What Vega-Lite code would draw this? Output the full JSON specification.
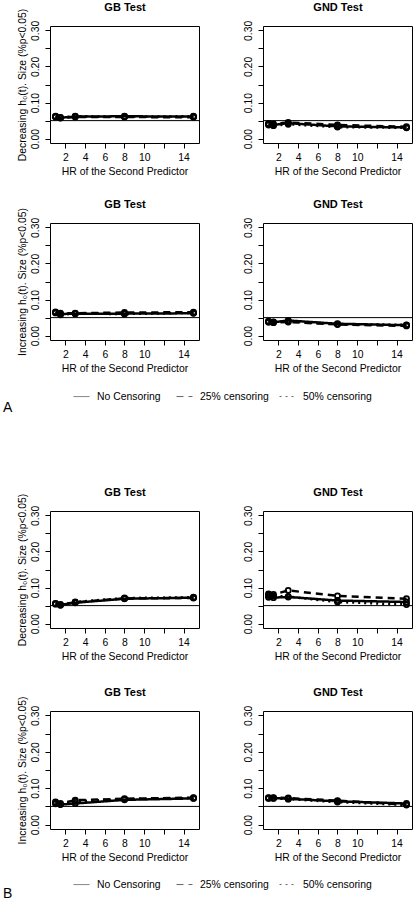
{
"$schema":"https://vega.github.io/schema/vega-lite/v6.json",
"padding":{"left":3,"top":0,"right":0,"bottom":0},
"datasets":{"sim":[
{"s":"A","h":"D","t":"GB","c":"No Censoring","x":1,"y":0.061},{"s":"A","h":"D","t":"GB","c":"No Censoring","x":1.5,"y":0.058},{"s":"A","h":"D","t":"GB","c":"No Censoring","x":3,"y":0.061},{"s":"A","h":"D","t":"GB","c":"No Censoring","x":8,"y":0.062},{"s":"A","h":"D","t":"GB","c":"No Censoring","x":15,"y":0.061},
{"s":"A","h":"D","t":"GB","c":"25% censoring","x":1,"y":0.062},{"s":"A","h":"D","t":"GB","c":"25% censoring","x":1.5,"y":0.057},{"s":"A","h":"D","t":"GB","c":"25% censoring","x":3,"y":0.060},{"s":"A","h":"D","t":"GB","c":"25% censoring","x":8,"y":0.060},{"s":"A","h":"D","t":"GB","c":"25% censoring","x":15,"y":0.059},
{"s":"A","h":"D","t":"GB","c":"50% censoring","x":1,"y":0.060},{"s":"A","h":"D","t":"GB","c":"50% censoring","x":1.5,"y":0.059},{"s":"A","h":"D","t":"GB","c":"50% censoring","x":3,"y":0.062},{"s":"A","h":"D","t":"GB","c":"50% censoring","x":8,"y":0.061},{"s":"A","h":"D","t":"GB","c":"50% censoring","x":15,"y":0.062},
{"s":"A","h":"D","t":"GND","c":"No Censoring","x":1,"y":0.040},{"s":"A","h":"D","t":"GND","c":"No Censoring","x":1.5,"y":0.038},{"s":"A","h":"D","t":"GND","c":"No Censoring","x":3,"y":0.043},{"s":"A","h":"D","t":"GND","c":"No Censoring","x":8,"y":0.034},{"s":"A","h":"D","t":"GND","c":"No Censoring","x":15,"y":0.031},
{"s":"A","h":"D","t":"GND","c":"25% censoring","x":1,"y":0.042},{"s":"A","h":"D","t":"GND","c":"25% censoring","x":1.5,"y":0.041},{"s":"A","h":"D","t":"GND","c":"25% censoring","x":3,"y":0.045},{"s":"A","h":"D","t":"GND","c":"25% censoring","x":8,"y":0.038},{"s":"A","h":"D","t":"GND","c":"25% censoring","x":15,"y":0.033},
{"s":"A","h":"D","t":"GND","c":"50% censoring","x":1,"y":0.038},{"s":"A","h":"D","t":"GND","c":"50% censoring","x":1.5,"y":0.036},{"s":"A","h":"D","t":"GND","c":"50% censoring","x":3,"y":0.040},{"s":"A","h":"D","t":"GND","c":"50% censoring","x":8,"y":0.032},{"s":"A","h":"D","t":"GND","c":"50% censoring","x":15,"y":0.030},
{"s":"A","h":"I","t":"GB","c":"No Censoring","x":1,"y":0.063},{"s":"A","h":"I","t":"GB","c":"No Censoring","x":1.5,"y":0.060},{"s":"A","h":"I","t":"GB","c":"No Censoring","x":3,"y":0.061},{"s":"A","h":"I","t":"GB","c":"No Censoring","x":8,"y":0.061},{"s":"A","h":"I","t":"GB","c":"No Censoring","x":15,"y":0.062},
{"s":"A","h":"I","t":"GB","c":"25% censoring","x":1,"y":0.066},{"s":"A","h":"I","t":"GB","c":"25% censoring","x":1.5,"y":0.062},{"s":"A","h":"I","t":"GB","c":"25% censoring","x":3,"y":0.062},{"s":"A","h":"I","t":"GB","c":"25% censoring","x":8,"y":0.064},{"s":"A","h":"I","t":"GB","c":"25% censoring","x":15,"y":0.065},
{"s":"A","h":"I","t":"GB","c":"50% censoring","x":1,"y":0.064},{"s":"A","h":"I","t":"GB","c":"50% censoring","x":1.5,"y":0.058},{"s":"A","h":"I","t":"GB","c":"50% censoring","x":3,"y":0.061},{"s":"A","h":"I","t":"GB","c":"50% censoring","x":8,"y":0.060},{"s":"A","h":"I","t":"GB","c":"50% censoring","x":15,"y":0.063},
{"s":"A","h":"I","t":"GND","c":"No Censoring","x":1,"y":0.039},{"s":"A","h":"I","t":"GND","c":"No Censoring","x":1.5,"y":0.037},{"s":"A","h":"I","t":"GND","c":"No Censoring","x":3,"y":0.042},{"s":"A","h":"I","t":"GND","c":"No Censoring","x":8,"y":0.033},{"s":"A","h":"I","t":"GND","c":"No Censoring","x":15,"y":0.029},
{"s":"A","h":"I","t":"GND","c":"25% censoring","x":1,"y":0.037},{"s":"A","h":"I","t":"GND","c":"25% censoring","x":1.5,"y":0.036},{"s":"A","h":"I","t":"GND","c":"25% censoring","x":3,"y":0.038},{"s":"A","h":"I","t":"GND","c":"25% censoring","x":8,"y":0.031},{"s":"A","h":"I","t":"GND","c":"25% censoring","x":15,"y":0.027},
{"s":"A","h":"I","t":"GND","c":"50% censoring","x":1,"y":0.040},{"s":"A","h":"I","t":"GND","c":"50% censoring","x":1.5,"y":0.038},{"s":"A","h":"I","t":"GND","c":"50% censoring","x":3,"y":0.040},{"s":"A","h":"I","t":"GND","c":"50% censoring","x":8,"y":0.032},{"s":"A","h":"I","t":"GND","c":"50% censoring","x":15,"y":0.030},
{"s":"B","h":"D","t":"GB","c":"No Censoring","x":1,"y":0.055},{"s":"B","h":"D","t":"GB","c":"No Censoring","x":1.5,"y":0.052},{"s":"B","h":"D","t":"GB","c":"No Censoring","x":3,"y":0.058},{"s":"B","h":"D","t":"GB","c":"No Censoring","x":8,"y":0.069},{"s":"B","h":"D","t":"GB","c":"No Censoring","x":15,"y":0.072},
{"s":"B","h":"D","t":"GB","c":"25% censoring","x":1,"y":0.056},{"s":"B","h":"D","t":"GB","c":"25% censoring","x":1.5,"y":0.053},{"s":"B","h":"D","t":"GB","c":"25% censoring","x":3,"y":0.059},{"s":"B","h":"D","t":"GB","c":"25% censoring","x":8,"y":0.070},{"s":"B","h":"D","t":"GB","c":"25% censoring","x":15,"y":0.071},
{"s":"B","h":"D","t":"GB","c":"50% censoring","x":1,"y":0.054},{"s":"B","h":"D","t":"GB","c":"50% censoring","x":1.5,"y":0.051},{"s":"B","h":"D","t":"GB","c":"50% censoring","x":3,"y":0.060},{"s":"B","h":"D","t":"GB","c":"50% censoring","x":8,"y":0.071},{"s":"B","h":"D","t":"GB","c":"50% censoring","x":15,"y":0.073},
{"s":"B","h":"D","t":"GND","c":"No Censoring","x":1,"y":0.073},{"s":"B","h":"D","t":"GND","c":"No Censoring","x":1.5,"y":0.072},{"s":"B","h":"D","t":"GND","c":"No Censoring","x":3,"y":0.074},{"s":"B","h":"D","t":"GND","c":"No Censoring","x":8,"y":0.064},{"s":"B","h":"D","t":"GND","c":"No Censoring","x":15,"y":0.060},
{"s":"B","h":"D","t":"GND","c":"25% censoring","x":1,"y":0.082},{"s":"B","h":"D","t":"GND","c":"25% censoring","x":1.5,"y":0.081},{"s":"B","h":"D","t":"GND","c":"25% censoring","x":3,"y":0.092},{"s":"B","h":"D","t":"GND","c":"25% censoring","x":8,"y":0.077},{"s":"B","h":"D","t":"GND","c":"25% censoring","x":15,"y":0.069},
{"s":"B","h":"D","t":"GND","c":"50% censoring","x":1,"y":0.078},{"s":"B","h":"D","t":"GND","c":"50% censoring","x":1.5,"y":0.077},{"s":"B","h":"D","t":"GND","c":"50% censoring","x":3,"y":0.075},{"s":"B","h":"D","t":"GND","c":"50% censoring","x":8,"y":0.060},{"s":"B","h":"D","t":"GND","c":"50% censoring","x":15,"y":0.053},
{"s":"B","h":"I","t":"GB","c":"No Censoring","x":1,"y":0.057},{"s":"B","h":"I","t":"GB","c":"No Censoring","x":1.5,"y":0.055},{"s":"B","h":"I","t":"GB","c":"No Censoring","x":3,"y":0.058},{"s":"B","h":"I","t":"GB","c":"No Censoring","x":8,"y":0.068},{"s":"B","h":"I","t":"GB","c":"No Censoring","x":15,"y":0.072},
{"s":"B","h":"I","t":"GB","c":"25% censoring","x":1,"y":0.062},{"s":"B","h":"I","t":"GB","c":"25% censoring","x":1.5,"y":0.058},{"s":"B","h":"I","t":"GB","c":"25% censoring","x":3,"y":0.067},{"s":"B","h":"I","t":"GB","c":"25% censoring","x":8,"y":0.071},{"s":"B","h":"I","t":"GB","c":"25% censoring","x":15,"y":0.074},
{"s":"B","h":"I","t":"GB","c":"50% censoring","x":1,"y":0.060},{"s":"B","h":"I","t":"GB","c":"50% censoring","x":1.5,"y":0.056},{"s":"B","h":"I","t":"GB","c":"50% censoring","x":3,"y":0.064},{"s":"B","h":"I","t":"GB","c":"50% censoring","x":8,"y":0.070},{"s":"B","h":"I","t":"GB","c":"50% censoring","x":15,"y":0.073},
{"s":"B","h":"I","t":"GND","c":"No Censoring","x":1,"y":0.073},{"s":"B","h":"I","t":"GND","c":"No Censoring","x":1.5,"y":0.073},{"s":"B","h":"I","t":"GND","c":"No Censoring","x":3,"y":0.071},{"s":"B","h":"I","t":"GND","c":"No Censoring","x":8,"y":0.064},{"s":"B","h":"I","t":"GND","c":"No Censoring","x":15,"y":0.058},
{"s":"B","h":"I","t":"GND","c":"25% censoring","x":1,"y":0.074},{"s":"B","h":"I","t":"GND","c":"25% censoring","x":1.5,"y":0.074},{"s":"B","h":"I","t":"GND","c":"25% censoring","x":3,"y":0.073},{"s":"B","h":"I","t":"GND","c":"25% censoring","x":8,"y":0.066},{"s":"B","h":"I","t":"GND","c":"25% censoring","x":15,"y":0.055},
{"s":"B","h":"I","t":"GND","c":"50% censoring","x":1,"y":0.072},{"s":"B","h":"I","t":"GND","c":"50% censoring","x":1.5,"y":0.072},{"s":"B","h":"I","t":"GND","c":"50% censoring","x":3,"y":0.070},{"s":"B","h":"I","t":"GND","c":"50% censoring","x":8,"y":0.062},{"s":"B","h":"I","t":"GND","c":"50% censoring","x":15,"y":0.054}
]},
"columns":2,
"spacing":{"row":0,"column":64},
"bounds":"flush",
"align":"each",
"resolve":{"scale":{"strokeDash":"independent"}},
"concat":[
{"width":149,"height":117,"resolve":{"axis":{"x":"independent"}},"layer":[
 {"data":{"values":[{"ref":0.05}]},"mark":{"type":"rule","color":"black","strokeWidth":1},"encoding":{"y":{"field":"ref","type":"quantitative","title":"Decreasing h₀(t). Size (%p<0.05)","scale":{"domain":[-0.012,0.312],"nice":false,"zero":false},"axis":{"values":[0,0.05,0.1,0.15,0.2,0.25,0.3],"labelOverlap":false,"labelExpr":"round(datum.value*20)%2==0?format(datum.value,'.2f'):''"}}}},
 {"data":{"name":"sim"},"transform":[{"filter":"datum.s=='A'&&datum.h=='D'&&datum.t=='GB'"}],"mark":{"type":"line","color":"black","strokeWidth":2.5},"encoding":{"x":{"field":"x","type":"quantitative","title":"HR of the Second Predictor","scale":{"domain":[0.44,15.56],"nice":false,"zero":false},"axis":{"values":[2,4,6,8,10,12,14],"labelOverlap":false,"labelExpr":"datum.value==12?'':datum.label"}},"y":{"field":"y","type":"quantitative","title":"Decreasing h₀(t). Size (%p<0.05)","scale":{"domain":[-0.012,0.312],"nice":false,"zero":false},"axis":{"values":[0,0.05,0.1,0.15,0.2,0.25,0.3],"labelOverlap":false,"labelExpr":"round(datum.value*20)%2==0?format(datum.value,'.2f'):''"}},"strokeDash":{"field":"c","type":"nominal","scale":{"domain":["No Censoring","25% censoring","50% censoring"],"range":[[1,0],[7,5],[2,4]]},"legend":null}}},
 {"data":{"name":"sim"},"transform":[{"filter":"datum.s=='A'&&datum.h=='D'&&datum.t=='GB'"}],"mark":{"type":"point","filled":false,"color":"black","strokeWidth":1.8,"size":26,"opacity":1},"encoding":{"x":{"field":"x","type":"quantitative","title":"GB Test","axis":{"orient":"top","labels":false,"ticks":false,"domain":false,"titleFontWeight":"bold","titleFontSize":11,"titleBaseline":"alphabetic","titlePadding":16}},"y":{"field":"y","type":"quantitative","title":"Decreasing h₀(t). Size (%p<0.05)","axis":{"values":[0,0.05,0.1,0.15,0.2,0.25,0.3],"labelOverlap":false,"labelExpr":"round(datum.value*20)%2==0?format(datum.value,'.2f'):''"}}}}
]},
{"width":149,"height":117,"resolve":{"axis":{"x":"independent"}},"layer":[
 {"data":{"values":[{"ref":0.05}]},"mark":{"type":"rule","color":"black","strokeWidth":1},"encoding":{"y":{"field":"ref","type":"quantitative","title":null,"scale":{"domain":[-0.012,0.312],"nice":false,"zero":false},"axis":{"values":[0,0.05,0.1,0.15,0.2,0.25,0.3],"labelOverlap":false,"labelExpr":"round(datum.value*20)%2==0?format(datum.value,'.2f'):''"}}}},
 {"data":{"name":"sim"},"transform":[{"filter":"datum.s=='A'&&datum.h=='D'&&datum.t=='GND'"}],"mark":{"type":"line","color":"black","strokeWidth":2.5},"encoding":{"x":{"field":"x","type":"quantitative","title":"HR of the Second Predictor","scale":{"domain":[0.44,15.56],"nice":false,"zero":false},"axis":{"values":[2,4,6,8,10,12,14],"labelOverlap":false,"labelExpr":"datum.value==12?'':datum.label"}},"y":{"field":"y","type":"quantitative","title":null,"scale":{"domain":[-0.012,0.312],"nice":false,"zero":false},"axis":{"values":[0,0.05,0.1,0.15,0.2,0.25,0.3],"labelOverlap":false,"labelExpr":"round(datum.value*20)%2==0?format(datum.value,'.2f'):''"}},"strokeDash":{"field":"c","type":"nominal","scale":{"domain":["No Censoring","25% censoring","50% censoring"],"range":[[1,0],[7,5],[2,4]]},"legend":null}}},
 {"data":{"name":"sim"},"transform":[{"filter":"datum.s=='A'&&datum.h=='D'&&datum.t=='GND'"}],"mark":{"type":"point","filled":false,"color":"black","strokeWidth":1.8,"size":26,"opacity":1},"encoding":{"x":{"field":"x","type":"quantitative","title":"GND Test","axis":{"orient":"top","labels":false,"ticks":false,"domain":false,"titleFontWeight":"bold","titleFontSize":11,"titleBaseline":"alphabetic","titlePadding":16}},"y":{"field":"y","type":"quantitative","title":null,"axis":{"values":[0,0.05,0.1,0.15,0.2,0.25,0.3],"labelOverlap":false,"labelExpr":"round(datum.value*20)%2==0?format(datum.value,'.2f'):''"}}}}
]},
{"width":149,"height":80,"data":{"values":[]},"mark":"point","view":{"stroke":null}},
{"width":149,"height":80,"data":{"values":[]},"mark":"point","view":{"stroke":null}},
{"width":149,"height":117,"resolve":{"axis":{"x":"independent"}},"layer":[
 {"data":{"values":[{"ref":0.05}]},"mark":{"type":"rule","color":"black","strokeWidth":1},"encoding":{"y":{"field":"ref","type":"quantitative","title":"Increasing h₀(t). Size (%p<0.05)","scale":{"domain":[-0.012,0.312],"nice":false,"zero":false},"axis":{"values":[0,0.05,0.1,0.15,0.2,0.25,0.3],"labelOverlap":false,"labelExpr":"round(datum.value*20)%2==0?format(datum.value,'.2f'):''"}}}},
 {"data":{"name":"sim"},"transform":[{"filter":"datum.s=='A'&&datum.h=='I'&&datum.t=='GB'"}],"mark":{"type":"line","color":"black","strokeWidth":2.5},"encoding":{"x":{"field":"x","type":"quantitative","title":"HR of the Second Predictor","scale":{"domain":[0.44,15.56],"nice":false,"zero":false},"axis":{"values":[2,4,6,8,10,12,14],"labelOverlap":false,"labelExpr":"datum.value==12?'':datum.label"}},"y":{"field":"y","type":"quantitative","title":"Increasing h₀(t). Size (%p<0.05)","scale":{"domain":[-0.012,0.312],"nice":false,"zero":false},"axis":{"values":[0,0.05,0.1,0.15,0.2,0.25,0.3],"labelOverlap":false,"labelExpr":"round(datum.value*20)%2==0?format(datum.value,'.2f'):''"}},"strokeDash":{"field":"c","type":"nominal","scale":{"domain":["No Censoring","25% censoring","50% censoring"],"range":[[1,0],[7,5],[2,4]]},"legend":{"orient":"none","legendX":23,"legendY":165,"direction":"horizontal","columns":3,"gridAlign":"all","columnPadding":8,"symbolType":"stroke","symbolSize":256,"symbolStrokeWidth":1,"symbolStrokeColor":"#666","labelFontSize":10.4,"labelFont":"Liberation Sans","labelColor":"black","labelOffset":7,"title":null,"padding":0}}}},
 {"data":{"name":"sim"},"transform":[{"filter":"datum.s=='A'&&datum.h=='I'&&datum.t=='GB'"}],"mark":{"type":"point","filled":false,"color":"black","strokeWidth":1.8,"size":26,"opacity":1},"encoding":{"x":{"field":"x","type":"quantitative","title":"GB Test","axis":{"orient":"top","labels":false,"ticks":false,"domain":false,"titleFontWeight":"bold","titleFontSize":11,"titleBaseline":"alphabetic","titlePadding":16}},"y":{"field":"y","type":"quantitative","title":"Increasing h₀(t). Size (%p<0.05)","axis":{"values":[0,0.05,0.1,0.15,0.2,0.25,0.3],"labelOverlap":false,"labelExpr":"round(datum.value*20)%2==0?format(datum.value,'.2f'):''"}}}}
]},
{"width":149,"height":117,"resolve":{"axis":{"x":"independent"}},"layer":[
 {"data":{"values":[{"ref":0.05}]},"mark":{"type":"rule","color":"black","strokeWidth":1},"encoding":{"y":{"field":"ref","type":"quantitative","title":null,"scale":{"domain":[-0.012,0.312],"nice":false,"zero":false},"axis":{"values":[0,0.05,0.1,0.15,0.2,0.25,0.3],"labelOverlap":false,"labelExpr":"round(datum.value*20)%2==0?format(datum.value,'.2f'):''"}}}},
 {"data":{"name":"sim"},"transform":[{"filter":"datum.s=='A'&&datum.h=='I'&&datum.t=='GND'"}],"mark":{"type":"line","color":"black","strokeWidth":2.5},"encoding":{"x":{"field":"x","type":"quantitative","title":"HR of the Second Predictor","scale":{"domain":[0.44,15.56],"nice":false,"zero":false},"axis":{"values":[2,4,6,8,10,12,14],"labelOverlap":false,"labelExpr":"datum.value==12?'':datum.label"}},"y":{"field":"y","type":"quantitative","title":null,"scale":{"domain":[-0.012,0.312],"nice":false,"zero":false},"axis":{"values":[0,0.05,0.1,0.15,0.2,0.25,0.3],"labelOverlap":false,"labelExpr":"round(datum.value*20)%2==0?format(datum.value,'.2f'):''"}},"strokeDash":{"field":"c","type":"nominal","scale":{"domain":["No Censoring","25% censoring","50% censoring"],"range":[[1,0],[7,5],[2,4]]},"legend":null}}},
 {"data":{"name":"sim"},"transform":[{"filter":"datum.s=='A'&&datum.h=='I'&&datum.t=='GND'"}],"mark":{"type":"point","filled":false,"color":"black","strokeWidth":1.8,"size":26,"opacity":1},"encoding":{"x":{"field":"x","type":"quantitative","title":"GND Test","axis":{"orient":"top","labels":false,"ticks":false,"domain":false,"titleFontWeight":"bold","titleFontSize":11,"titleBaseline":"alphabetic","titlePadding":16}},"y":{"field":"y","type":"quantitative","title":null,"axis":{"values":[0,0.05,0.1,0.15,0.2,0.25,0.3],"labelOverlap":false,"labelExpr":"round(datum.value*20)%2==0?format(datum.value,'.2f'):''"}}}}
]},
{"width":149,"height":171,"data":{"values":[]},"mark":"point","view":{"stroke":null},"title":{"text":"A","anchor":"start","orient":"top","dx":-47,"dy":86,"offset":0,"baseline":"alphabetic","fontSize":14,"fontWeight":"normal","color":"black","font":"Liberation Sans"}},
{"width":149,"height":171,"data":{"values":[]},"mark":"point","view":{"stroke":null}},
{"width":149,"height":117,"resolve":{"axis":{"x":"independent"}},"layer":[
 {"data":{"values":[{"ref":0.05}]},"mark":{"type":"rule","color":"black","strokeWidth":1},"encoding":{"y":{"field":"ref","type":"quantitative","title":"Decreasing h₀(t). Size (%p<0.05)","scale":{"domain":[-0.012,0.312],"nice":false,"zero":false},"axis":{"values":[0,0.05,0.1,0.15,0.2,0.25,0.3],"labelOverlap":false,"labelExpr":"round(datum.value*20)%2==0?format(datum.value,'.2f'):''"}}}},
 {"data":{"name":"sim"},"transform":[{"filter":"datum.s=='B'&&datum.h=='D'&&datum.t=='GB'"}],"mark":{"type":"line","color":"black","strokeWidth":2.5},"encoding":{"x":{"field":"x","type":"quantitative","title":"HR of the Second Predictor","scale":{"domain":[0.44,15.56],"nice":false,"zero":false},"axis":{"values":[2,4,6,8,10,12,14],"labelOverlap":false,"labelExpr":"datum.value==12?'':datum.label"}},"y":{"field":"y","type":"quantitative","title":"Decreasing h₀(t). Size (%p<0.05)","scale":{"domain":[-0.012,0.312],"nice":false,"zero":false},"axis":{"values":[0,0.05,0.1,0.15,0.2,0.25,0.3],"labelOverlap":false,"labelExpr":"round(datum.value*20)%2==0?format(datum.value,'.2f'):''"}},"strokeDash":{"field":"c","type":"nominal","scale":{"domain":["No Censoring","25% censoring","50% censoring"],"range":[[1,0],[7,5],[2,4]]},"legend":null}}},
 {"data":{"name":"sim"},"transform":[{"filter":"datum.s=='B'&&datum.h=='D'&&datum.t=='GB'"}],"mark":{"type":"point","filled":false,"color":"black","strokeWidth":1.8,"size":26,"opacity":1},"encoding":{"x":{"field":"x","type":"quantitative","title":"GB Test","axis":{"orient":"top","labels":false,"ticks":false,"domain":false,"titleFontWeight":"bold","titleFontSize":11,"titleBaseline":"alphabetic","titlePadding":16}},"y":{"field":"y","type":"quantitative","title":"Decreasing h₀(t). Size (%p<0.05)","axis":{"values":[0,0.05,0.1,0.15,0.2,0.25,0.3],"labelOverlap":false,"labelExpr":"round(datum.value*20)%2==0?format(datum.value,'.2f'):''"}}}}
]},
{"width":149,"height":117,"resolve":{"axis":{"x":"independent"}},"layer":[
 {"data":{"values":[{"ref":0.05}]},"mark":{"type":"rule","color":"black","strokeWidth":1},"encoding":{"y":{"field":"ref","type":"quantitative","title":null,"scale":{"domain":[-0.012,0.312],"nice":false,"zero":false},"axis":{"values":[0,0.05,0.1,0.15,0.2,0.25,0.3],"labelOverlap":false,"labelExpr":"round(datum.value*20)%2==0?format(datum.value,'.2f'):''"}}}},
 {"data":{"name":"sim"},"transform":[{"filter":"datum.s=='B'&&datum.h=='D'&&datum.t=='GND'"}],"mark":{"type":"line","color":"black","strokeWidth":2.5},"encoding":{"x":{"field":"x","type":"quantitative","title":"HR of the Second Predictor","scale":{"domain":[0.44,15.56],"nice":false,"zero":false},"axis":{"values":[2,4,6,8,10,12,14],"labelOverlap":false,"labelExpr":"datum.value==12?'':datum.label"}},"y":{"field":"y","type":"quantitative","title":null,"scale":{"domain":[-0.012,0.312],"nice":false,"zero":false},"axis":{"values":[0,0.05,0.1,0.15,0.2,0.25,0.3],"labelOverlap":false,"labelExpr":"round(datum.value*20)%2==0?format(datum.value,'.2f'):''"}},"strokeDash":{"field":"c","type":"nominal","scale":{"domain":["No Censoring","25% censoring","50% censoring"],"range":[[1,0],[7,5],[2,4]]},"legend":null}}},
 {"data":{"name":"sim"},"transform":[{"filter":"datum.s=='B'&&datum.h=='D'&&datum.t=='GND'"}],"mark":{"type":"point","filled":false,"color":"black","strokeWidth":1.8,"size":26,"opacity":1},"encoding":{"x":{"field":"x","type":"quantitative","title":"GND Test","axis":{"orient":"top","labels":false,"ticks":false,"domain":false,"titleFontWeight":"bold","titleFontSize":11,"titleBaseline":"alphabetic","titlePadding":16}},"y":{"field":"y","type":"quantitative","title":null,"axis":{"values":[0,0.05,0.1,0.15,0.2,0.25,0.3],"labelOverlap":false,"labelExpr":"round(datum.value*20)%2==0?format(datum.value,'.2f'):''"}}}}
]},
{"width":149,"height":83,"data":{"values":[]},"mark":"point","view":{"stroke":null}},
{"width":149,"height":83,"data":{"values":[]},"mark":"point","view":{"stroke":null}},
{"width":149,"height":118,"resolve":{"axis":{"x":"independent"}},"layer":[
 {"data":{"values":[{"ref":0.05}]},"mark":{"type":"rule","color":"black","strokeWidth":1},"encoding":{"y":{"field":"ref","type":"quantitative","title":"Increasing h₀(t). Size (%p<0.05)","scale":{"domain":[-0.012,0.312],"nice":false,"zero":false},"axis":{"values":[0,0.05,0.1,0.15,0.2,0.25,0.3],"labelOverlap":false,"labelExpr":"round(datum.value*20)%2==0?format(datum.value,'.2f'):''"}}}},
 {"data":{"name":"sim"},"transform":[{"filter":"datum.s=='B'&&datum.h=='I'&&datum.t=='GB'"}],"mark":{"type":"line","color":"black","strokeWidth":2.5},"encoding":{"x":{"field":"x","type":"quantitative","title":"HR of the Second Predictor","scale":{"domain":[0.44,15.56],"nice":false,"zero":false},"axis":{"values":[2,4,6,8,10,12,14],"labelOverlap":false,"labelExpr":"datum.value==12?'':datum.label"}},"y":{"field":"y","type":"quantitative","title":"Increasing h₀(t). Size (%p<0.05)","scale":{"domain":[-0.012,0.312],"nice":false,"zero":false},"axis":{"values":[0,0.05,0.1,0.15,0.2,0.25,0.3],"labelOverlap":false,"labelExpr":"round(datum.value*20)%2==0?format(datum.value,'.2f'):''"}},"strokeDash":{"field":"c","type":"nominal","scale":{"domain":["No Censoring","25% censoring","50% censoring"],"range":[[1,0],[7,5],[2,4]]},"legend":{"orient":"none","legendX":23,"legendY":165,"direction":"horizontal","columns":3,"gridAlign":"all","columnPadding":8,"symbolType":"stroke","symbolSize":256,"symbolStrokeWidth":1,"symbolStrokeColor":"#666","labelFontSize":10.4,"labelFont":"Liberation Sans","labelColor":"black","labelOffset":7,"title":null,"padding":0}}}},
 {"data":{"name":"sim"},"transform":[{"filter":"datum.s=='B'&&datum.h=='I'&&datum.t=='GB'"}],"mark":{"type":"point","filled":false,"color":"black","strokeWidth":1.8,"size":26,"opacity":1},"encoding":{"x":{"field":"x","type":"quantitative","title":"GB Test","axis":{"orient":"top","labels":false,"ticks":false,"domain":false,"titleFontWeight":"bold","titleFontSize":11,"titleBaseline":"alphabetic","titlePadding":16}},"y":{"field":"y","type":"quantitative","title":"Increasing h₀(t). Size (%p<0.05)","axis":{"values":[0,0.05,0.1,0.15,0.2,0.25,0.3],"labelOverlap":false,"labelExpr":"round(datum.value*20)%2==0?format(datum.value,'.2f'):''"}}}}
]},
{"width":149,"height":118,"resolve":{"axis":{"x":"independent"}},"layer":[
 {"data":{"values":[{"ref":0.05}]},"mark":{"type":"rule","color":"black","strokeWidth":1},"encoding":{"y":{"field":"ref","type":"quantitative","title":null,"scale":{"domain":[-0.012,0.312],"nice":false,"zero":false},"axis":{"values":[0,0.05,0.1,0.15,0.2,0.25,0.3],"labelOverlap":false,"labelExpr":"round(datum.value*20)%2==0?format(datum.value,'.2f'):''"}}}},
 {"data":{"name":"sim"},"transform":[{"filter":"datum.s=='B'&&datum.h=='I'&&datum.t=='GND'"}],"mark":{"type":"line","color":"black","strokeWidth":2.5},"encoding":{"x":{"field":"x","type":"quantitative","title":"HR of the Second Predictor","scale":{"domain":[0.44,15.56],"nice":false,"zero":false},"axis":{"values":[2,4,6,8,10,12,14],"labelOverlap":false,"labelExpr":"datum.value==12?'':datum.label"}},"y":{"field":"y","type":"quantitative","title":null,"scale":{"domain":[-0.012,0.312],"nice":false,"zero":false},"axis":{"values":[0,0.05,0.1,0.15,0.2,0.25,0.3],"labelOverlap":false,"labelExpr":"round(datum.value*20)%2==0?format(datum.value,'.2f'):''"}},"strokeDash":{"field":"c","type":"nominal","scale":{"domain":["No Censoring","25% censoring","50% censoring"],"range":[[1,0],[7,5],[2,4]]},"legend":null}}},
 {"data":{"name":"sim"},"transform":[{"filter":"datum.s=='B'&&datum.h=='I'&&datum.t=='GND'"}],"mark":{"type":"point","filled":false,"color":"black","strokeWidth":1.8,"size":26,"opacity":1},"encoding":{"x":{"field":"x","type":"quantitative","title":"GND Test","axis":{"orient":"top","labels":false,"ticks":false,"domain":false,"titleFontWeight":"bold","titleFontSize":11,"titleBaseline":"alphabetic","titlePadding":16}},"y":{"field":"y","type":"quantitative","title":null,"axis":{"values":[0,0.05,0.1,0.15,0.2,0.25,0.3],"labelOverlap":false,"labelExpr":"round(datum.value*20)%2==0?format(datum.value,'.2f'):''"}}}}
]},
{"width":149,"height":60,"data":{"values":[]},"mark":"point","view":{"stroke":null},"title":{"text":"B","anchor":"start","orient":"top","dx":-47,"dy":83,"offset":0,"baseline":"alphabetic","fontSize":14,"fontWeight":"normal","color":"black","font":"Liberation Sans"}},
{"width":149,"height":60,"data":{"values":[]},"mark":"point","view":{"stroke":null}}
],
"config":{
 "view":{"stroke":"black","strokeWidth":1},
 "font":"Liberation Sans",
 "axis":{"grid":false,"domain":false,"tickColor":"black","tickSize":5,"tickWidth":1,"labelColor":"black","labelFontSize":10.4,"labelFont":"Liberation Sans","titleFont":"Liberation Sans","titleFontSize":10.4,"titleFontWeight":"normal","titleColor":"black","labelOverlap":false,"labelFlush":false},
 "axisY":{"labelAngle":-90,"labelAlign":"center","labelBaseline":"alphabetic","labelPadding":7,"titlePadding":3,"minExtent":0},
 "axisX":{"labelPadding":4,"titlePadding":4}
}
}
